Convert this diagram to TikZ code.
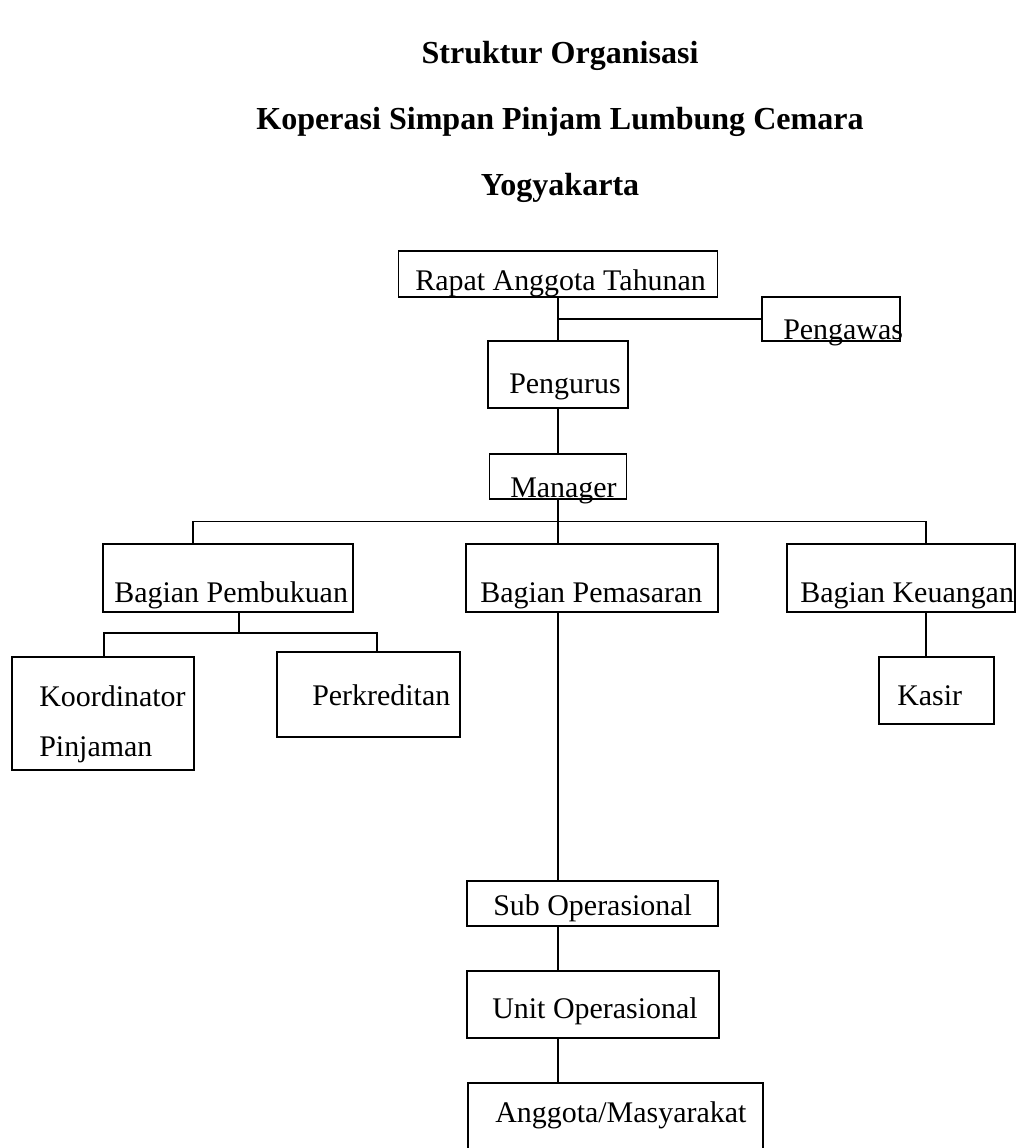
\documentclass[tikz,border=0pt]{standalone}
\usepackage{fontspec}
\setmainfont{Liberation Serif}

\begin{document}
\begin{tikzpicture}[
  unitbox/.style={draw, line width=1.4pt, inner sep=0pt},
  lbl/.style={anchor=base west, inner sep=0pt, font=\fontsize{21.3}{25}\selectfont},
  headline/.style={anchor=base, inner sep=0pt, font=\fontsize{22.8}{27}\selectfont\bfseries},
  link/.style={line width=0.9pt}
]

\clip (0,0) rectangle (25.5,-28.7);

% title
\node[headline] (t1) at (14.0,-1.6) {Struktur Organisasi};
\node[headline] (t2) at (14.0,-3.25) {Koperasi Simpan Pinjam Lumbung Cemara};
\node[headline] (t3) at (14.0,-4.9) {Yogyakarta};

% boxes
\node[unitbox, minimum width=7.975cm, minimum height=1.15cm] (rat) at (13.95,-6.85) {};
\node[unitbox, minimum width=3.45cm, minimum height=1.1cm] (pengawas) at (20.775,-7.975) {};
\node[unitbox, minimum width=3.5cm, minimum height=1.675cm] (pengurus) at (13.95,-9.3625) {};
\node[unitbox, minimum width=3.425cm, minimum height=1.125cm] (manager) at (13.95,-11.9125) {};
\node[unitbox, minimum width=6.25cm, minimum height=1.7cm] (pembukuan) at (5.7,-14.45) {};
\node[unitbox, minimum width=6.3cm, minimum height=1.7cm] (pemasaran) at (14.8,-14.45) {};
\node[unitbox, minimum width=5.7cm, minimum height=1.7cm] (keuangan) at (22.525,-14.45) {};
\node[unitbox, minimum width=4.55cm, minimum height=2.825cm] (koordinator) at (2.575,-17.8375) {};
\node[unitbox, minimum width=4.575cm, minimum height=2.125cm] (perkreditan) at (9.2125,-17.3625) {};
\node[unitbox, minimum width=2.875cm, minimum height=1.675cm] (kasir) at (23.4125,-17.2625) {};
\node[unitbox, minimum width=6.275cm, minimum height=1.125cm] (subop) at (14.8125,-22.5875) {};
\node[unitbox, minimum width=6.3cm, minimum height=1.675cm] (unitop) at (14.825,-25.1125) {};
\node[unitbox, minimum width=7.375cm, minimum height=2.05cm] (anggota) at (15.3875,-28.1) {};

% labels
\node[lbl] (ratL) at (10.375,-7.25) {Rapat Anggota Tahunan};
\node[lbl] (pengawasL) at (19.575,-8.475) {Pengawas};
\node[lbl] (pengurusL) at (12.725,-9.825) {Pengurus};
\node[lbl] (managerL) at (12.75,-12.425) {Manager};
\node[lbl] (pembukuanL) at (2.85,-15.05) {Bagian Pembukuan};
\node[lbl] (pemasaranL) at (12.0,-15.05) {Bagian Pemasaran};
\node[lbl] (keuanganL) at (20.0,-15.05) {Bagian Keuangan};
\node[lbl, align=left] (koordinatorL) at (0.975,-18.9) {Koordinator\\[0.35cm]Pinjaman};
\node[lbl] (perkreditanL) at (7.8,-17.625) {Perkreditan};
\node[lbl] (kasirL) at (22.425,-17.625) {Kasir};
\node[lbl] (subopL) at (12.325,-22.875) {Sub Operasional};
\node[lbl] (unitopL) at (12.3,-25.45) {Unit Operasional};
\node[lbl] (anggotaL) at (12.375,-28.05) {Anggota/Masyarakat};

% connectors
\draw[link] (rat.south) -- (pengurus.north);
\draw[link, line width=1.4pt] (rat.south |- pengawas.west) -- (pengawas.west);
\draw[link] (pengurus.south) -- (manager.north);

\coordinate (busW) at (4.825,-13.04);
\coordinate (busE) at (23.15,-13.04);
\draw[link] (manager.south) -- (pemasaran.north -| manager.south);
\draw[link] (pembukuan.north -| busW) -- (busW) -- (busE) -- (keuangan.north -| busE);

\coordinate (subM) at (5.975,-15.825);
\coordinate (subW) at (2.6,-15.825);
\coordinate (subE) at (9.425,-15.825);
\draw[link] (pembukuan.south -| subM) -- (subM);
\draw[link] (koordinator.north -| subW) -- (subW) -- (subE) -- (perkreditan.north -| subE);

\draw[link] (keuangan.south -| busE) -- (kasir.north -| busE);

\draw[link] (pemasaran.south -| manager.south) -- (subop.north -| manager.south);
\draw[link] (subop.south -| manager.south) -- (unitop.north -| manager.south);
\draw[link] (unitop.south -| manager.south) -- (anggota.north -| manager.south);

\end{tikzpicture}
\end{document}
